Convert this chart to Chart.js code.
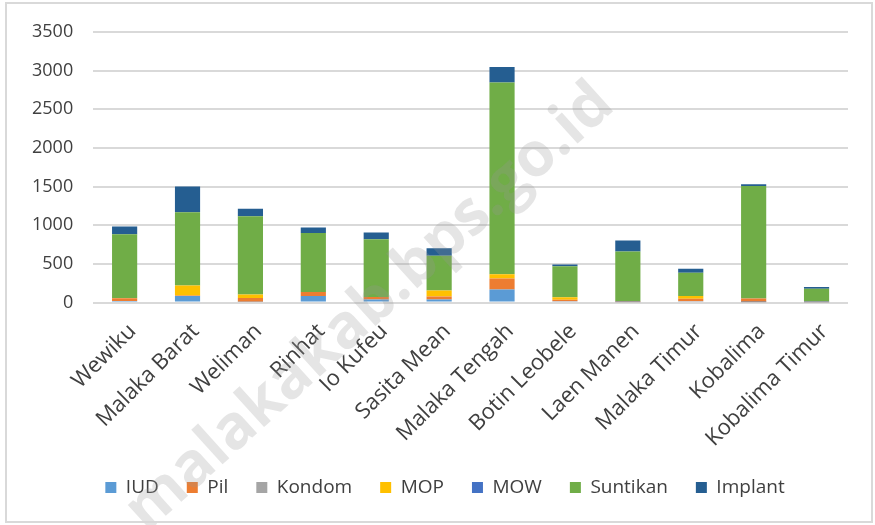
<!DOCTYPE html>
<html>
<head>
<meta charset="utf-8">
<script src="https://cdn.jsdelivr.net/npm/chart.js@4.4.1/dist/chart.umd.min.js"></script>
<style>
  html, body { margin: 0; padding: 0; background: #fff; }
  #wrap { width: 875px; height: 525px; position: relative; }
</style>
</head>
<body>
<div id="wrap"><canvas id="kb"></canvas></div>
<script>
// kecamatan
const categories = ['Wewiku', 'Malaka Barat', 'Weliman', 'Rinhat', 'Io Kufeu', 'Sasita Mean',
  'Malaka Tengah', 'Botin Leobele', 'Laen Manen', 'Malaka Timur', 'Kobalima', 'Kobalima Timur'];

// peserta KB aktif per metode
const iud      = [20, 86, 10, 86, 39, 39, 168, 18, 3, 18, 5, 2];
const pil      = [35, 5, 48, 52, 34, 39, 143, 18, 13, 31, 48, 13];
const kondom   = [0, 0, 0, 0, 0, 0, 0, 0, 0, 0, 0, 0];
const mop      = [5, 130, 45, 0, 0, 78, 56, 31, 0, 35, 0, 0];
const mow      = [0, 0, 0, 0, 0, 0, 0, 0, 0, 0, 0, 0];
const suntikan = [825, 948, 1013, 763, 746, 448, 2480, 402, 645, 300, 1456, 163];
const implant  = [100, 332, 99, 69, 86, 99, 199, 22, 141, 53, 22, 22];

const yTicks = [0, 500, 1000, 1500, 2000, 2500, 3000, 3500];

const FONT = "'Open Sans', 'Liberation Sans', sans-serif";
const TXT = '#404040';

const frameAndMark = {
  id: 'frameAndMark',
  afterLayout(chart) {
    // legend sits a bit right of centre in the original
    chart.legend.left += 15;
    chart.legend.right += 15;
  },
  afterDraw(chart) {
    const ctx = chart.ctx;
    ctx.save();
    // watermark
    const x0 = 135, y0 = 520, x1 = 605, y1 = 95;
    const len = Math.hypot(x1 - x0, y1 - y0);
    ctx.font = "bold 60px " + FONT;
    const w = ctx.measureText('malakakab.bps.go.id').width;
    const size = 60 * len / w;
    ctx.font = "bold " + size + "px " + FONT;
    ctx.translate((x0 + x1) / 2, (y0 + y1) / 2);
    ctx.rotate(Math.atan2(y1 - y0, x1 - x0));
    ctx.fillStyle = 'rgba(150,150,150,0.25)';
    ctx.textAlign = 'center';
    ctx.textBaseline = 'middle';
    ctx.fillText('malakakab.bps.go.id', 0, 0);
    ctx.restore();
    // frame
    ctx.save();
    ctx.strokeStyle = '#d9d9d9';
    ctx.lineWidth = 2;
    ctx.strokeRect(6, 3, 866, 519);
    ctx.restore();
  }
};

function ds(label, data, color) {
  return { label, data, backgroundColor: color, borderWidth: 0,
    categoryPercentage: 1, barPercentage: 0.4 };
}

new Chart(document.getElementById('kb'), {
  type: 'bar',
  data: {
    labels: categories,
    datasets: [
      ds('IUD', iud, '#5B9BD5'),
      ds('Pil', pil, '#ED7D31'),
      ds('Kondom', kondom, '#A5A5A5'),
      ds('MOP', mop, '#FFC000'),
      ds('MOW', mow, '#4472C4'),
      ds('Suntikan', suntikan, '#70AD47'),
      ds('Implant', implant, '#255E91')
    ]
  },
  options: {
    responsive: true,
    maintainAspectRatio: false,
    animation: false,
    layout: { padding: { left: 12, right: 27, top: 32, bottom: 18 } },
    scales: {
      x: {
        stacked: true,
        grid: { display: false },
        border: { display: false },
        ticks: { color: TXT, font: { family: FONT, size: 22 }, minRotation: 45, maxRotation: 45,
          padding: 8, labelOffset: 8 },
        afterFit(axis) { axis.height -= 10; }
      },
      y: {
        stacked: true,
        min: 0,
        max: 3500,
        afterBuildTicks(axis) { axis.ticks = yTicks.map(v => ({ value: v })); },
        grid: { color: '#d9d9d9', lineWidth: 2, drawTicks: false },
        border: { display: false },
        ticks: { color: TXT, font: { family: FONT, size: 18 }, padding: 20, callback: v => String(v) }
      }
    },
    plugins: {
      legend: {
        position: 'bottom',
        labels: { color: TXT, font: { family: FONT, size: 19 }, boxWidth: 11, boxHeight: 11, padding: 28 }
      },
      tooltip: { enabled: false }
    }
  },
  plugins: [frameAndMark]
});
</script>
</body>
</html>
